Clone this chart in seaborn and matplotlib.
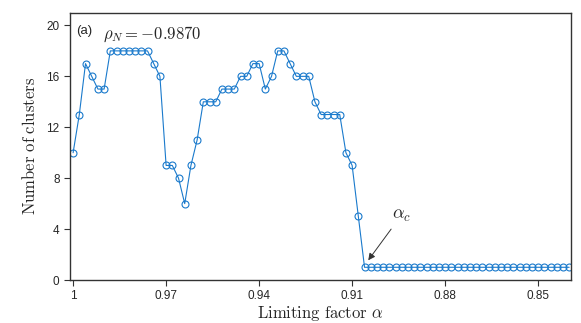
import numpy as np
import pandas as pd
import seaborn as sns
import matplotlib.pyplot as plt

# limiting factor from 1.0 down to 0.84 in steps of 0.002
alpha = [round(1.0 - 0.002 * i, 3) for i in range(81)]
clusters = [10, 13, 17, 16, 15, 15, 18, 18, 18, 18, 18, 18, 18, 17, 16,
            9, 9, 8, 6, 9, 11, 14, 14, 14, 15, 15, 15, 16, 16, 17, 17,
            15, 16, 18, 18, 17, 16, 16, 16, 14, 13, 13, 13, 13, 10, 9, 5] + [1] * 34
xticks = [1, 0.97, 0.94, 0.91, 0.88, 0.85]
xticklabels = ['1', '0.97', '0.94', '0.91', '0.88', '0.85']
yticks = [0, 4, 8, 12, 16, 20]

sns.set_style('ticks')
plt.rcParams['font.family'] = ['Liberation Sans', 'DejaVu Sans']
plt.rcParams['mathtext.fontset'] = 'cm'

df = pd.DataFrame({'alpha': alpha, 'clusters': clusters})

fig = plt.figure(figsize=(5.81, 3.23), dpi=100)
ax = fig.add_axes([0.1205, 0.1331, 0.8623, 0.8276])

line_color = '#1a7acc'
sns.lineplot(data=df, x='alpha', y='clusters', ax=ax, color=line_color,
             linewidth=0.8, marker='o', markersize=5.0, markerfacecolor='none',
             markeredgecolor=line_color, markeredgewidth=0.8)

ax.set_xlim(1.001, 0.8394)
ax.set_ylim(0, 21)
ax.set_xticks(xticks)
ax.set_xticklabels(xticklabels)
ax.set_yticks(yticks)
ax.tick_params(labelsize=8.5, length=4, width=0.8, color='#333333')
for s in ax.spines.values():
    s.set_linewidth(1.0)
    s.set_color('#333333')

ax.set_xlabel(r'$\mathrm{Limiting\ factor}\ \alpha$', fontsize=12, labelpad=1)
ax.set_ylabel(r'$\mathrm{Number\ of\ clusters}$', fontsize=12, labelpad=6)

ax.text(0.012, 0.955, '(a)', transform=ax.transAxes, fontsize=9.5, va='top')
ax.text(0.066, 0.955, r'$\rho_N = -0.9870$', transform=ax.transAxes,
        fontsize=12, va='top')

ax.annotate(r'$\alpha_c$', xy=(0.9048, 1.55), xytext=(0.8941, 5.1),
            fontsize=13, ha='center', va='center',
            arrowprops=dict(arrowstyle='-|>', color='#333333', lw=0.7,
                            shrinkA=2, shrinkB=0, mutation_scale=10))

fig.savefig('out.png', dpi=100)
